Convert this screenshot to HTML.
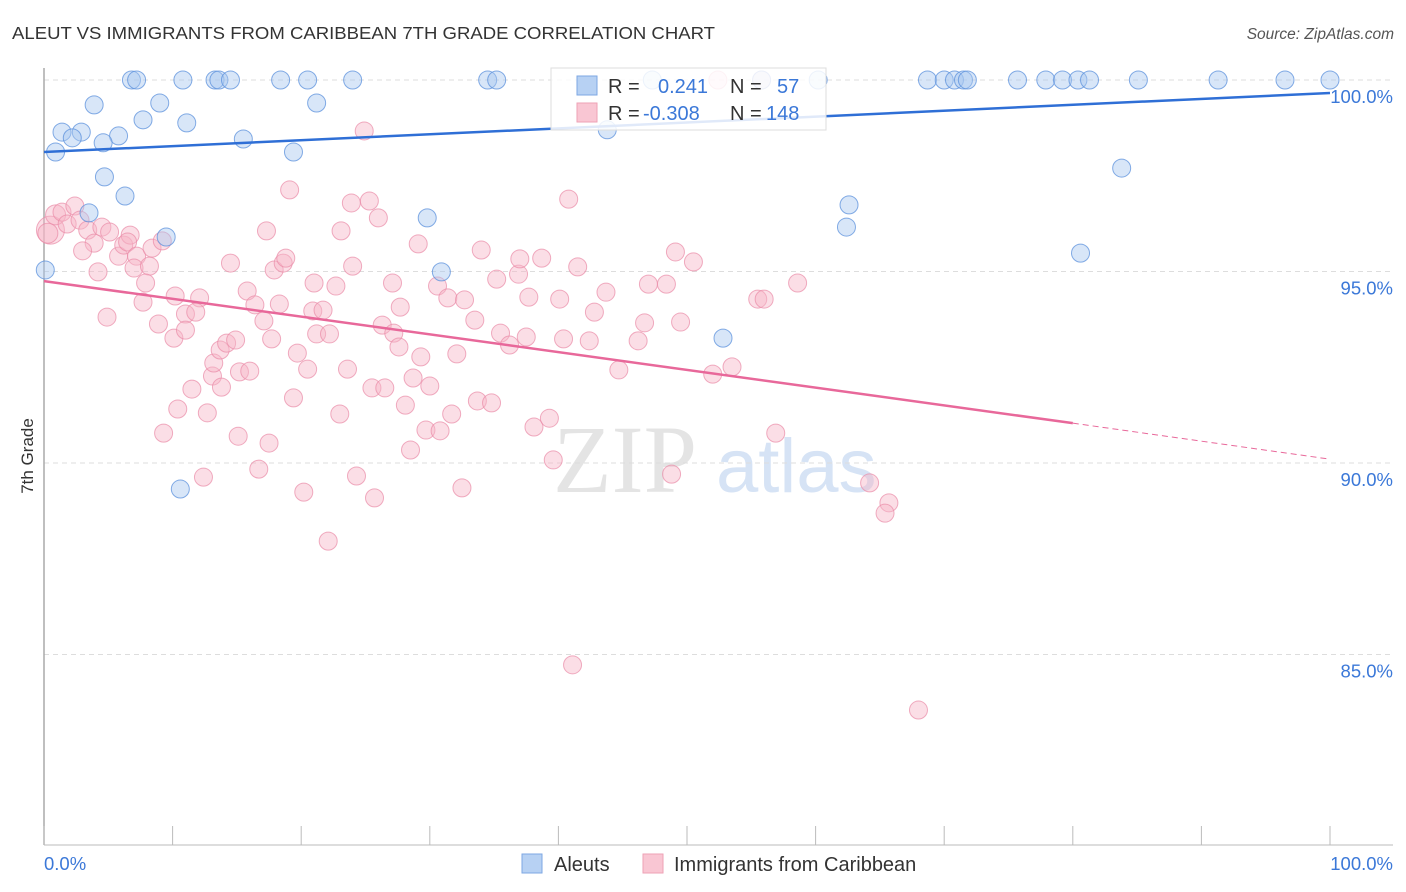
<!DOCTYPE html>
<html><head><meta charset="utf-8">
<style>
body{margin:0;background:#fff;font-family:"Liberation Sans",sans-serif;}
svg{display:block}
</style></head>
<body>
<svg id="chart" width="1406" height="892" viewBox="0 0 1406 892">
<text x="12" y="39" font-size="17.5" fill="#333" textLength="703" lengthAdjust="spacingAndGlyphs">ALEUT VS IMMIGRANTS FROM CARIBBEAN 7TH GRADE CORRELATION CHART</text>
<text x="1394" y="39" font-size="15.5" fill="#555" font-style="italic" text-anchor="end">Source: ZipAtlas.com</text>
<g>
<text x="553" y="492" font-size="96" font-family="Liberation Serif,serif" fill="#e4e4e4">ZIP</text>
<text x="716" y="492" font-size="76" fill="#d6e3f5">atlas</text>
</g>
<g id="grid"></g>
<g id="axes"></g>
<g id="marks"></g>
<g>
<rect x="551" y="68" width="275" height="62" fill="#fff" fill-opacity="0.85" stroke="#ddd"/>
<rect x="577" y="76" width="20" height="19" fill="#b7d1f3" stroke="#7ea7e3"/>
<rect x="577" y="103" width="20" height="19" fill="#f9c6d3" stroke="#eea2b6"/>
<text x="608" y="93" font-size="20" fill="#333">R = </text>
<text x="658" y="93" font-size="20" fill="#3b78d8">0.241</text>
<text x="730" y="93" font-size="20" fill="#333">N = </text>
<text x="777" y="93" font-size="20" fill="#3b78d8">57</text>
<text x="608" y="120" font-size="20" fill="#333">R = </text>
<text x="643" y="120" font-size="20" fill="#3b78d8">-0.308</text>
<text x="730" y="120" font-size="20" fill="#333">N = </text>
<text x="766" y="120" font-size="20" fill="#3b78d8">148</text>
</g>
<g>
<rect x="522" y="854" width="20" height="19" fill="#b7d1f3" stroke="#7ea7e3"/>
<text x="554" y="871" font-size="20" fill="#333">Aleuts</text>
<rect x="643" y="854" width="20" height="19" fill="#f9c6d3" stroke="#eea2b6"/>
<text x="674" y="871" font-size="20" fill="#333">Immigrants from Caribbean</text>
</g>
<text transform="translate(33,456) rotate(-90)" font-size="17" fill="#333" text-anchor="middle">7th Grade</text>
</svg>
<script>
const yTicks=[100,95,90,85];
const yTickLabels=["100.0%","95.0%","90.0%","85.0%"];
const xTicks=[0,10,20,30,40,50,60,70,80,90,100];
const xEndLabels=["0.0%","100.0%"];
const aleutX=[6.8,7.2,10.8,13.3,13.6,14.5,18.4,20.5,24.0,34.5,35.2,47.3,55.8,60.2,68.7,70.0,70.8,71.5,71.8,75.7,77.9,79.2,80.4,81.3,85.1,91.3,96.5,100,
3.9,9.0,21.2,1.4,2.9,2.2,5.8,7.7,11.1,15.5,4.6,0.9,19.4,43.8,4.7,6.3,3.5,29.8,9.5,0.1,30.9,62.6,62.4,83.8,80.6,52.8,10.6];
const aleutY=[100,100,100,100,100,100,100,100,100,100,100,100,100,100,100,100,100,100,100,100,100,100,100,100,100,100,100,100,
99.35,99.4,99.4,98.64,98.64,98.49,98.54,98.96,98.88,98.46,98.36,98.12,98.12,98.7,97.47,96.97,96.53,96.4,95.9,95.04,94.99,96.74,96.16,97.7,95.48,93.26,89.32];
const caribX=[0.5,0.3,0.9,1.4,1.8,2.4,2.8,3.4,3.9,3.0,4.2,4.5,5.1,5.8,6.2,6.7,6.5,7.2,7.0,8.4,8.2,9.2,7.9,7.7,4.9,10.2,8.9,11.0,10.1,11.0,12.1,11.8,11.5,10.4,9.3,12.7,13.1,13.2,13.7,14.2,14.9,13.8,15.2,14.5,15.8,16.4,17.1,17.3,17.9,18.6,18.8,18.3,17.7,16.0,15.1,17.5,16.7,12.4,19.1,19.7,19.4,20.5,20.2,22.1,21.0,20.9,21.7,21.2,22.2,22.7,23.1,23.9,24.0,23.6,23.0,24.3,25.3,24.9,26.0,26.3,27.2,27.1,27.6,27.7,25.5,26.5,25.7,28.1,28.7,29.3,29.1,30.0,29.7,30.8,31.7,28.5,30.6,31.4,32.7,32.1,33.5,33.7,34.8,32.5,34.0,35.2,35.5,36.2,36.9,37.0,37.7,37.5,38.1,38.7,39.3,39.6,40.1,40.4,40.8,41.5,42.4,42.8,43.7,44.7,46.2,46.7,47.0,48.4,48.8,49.1,49.5,50.5,52.0,53.5,55.5,56.0,56.9,58.6,64.2,65.7,65.4,68.0,41.1,52.4,55.8];
const caribY=[96.08,96.0,96.48,96.55,96.24,96.71,96.34,96.08,95.74,95.54,94.99,96.16,96.03,95.40,95.69,95.95,95.77,95.40,95.09,95.61,95.14,95.80,94.70,94.20,93.81,94.36,93.63,93.89,93.26,93.47,94.31,93.94,91.93,91.41,90.78,91.31,92.27,92.61,92.95,93.13,93.21,91.98,92.38,95.22,94.49,94.13,93.71,96.06,95.04,95.22,95.35,94.15,93.24,92.40,90.70,90.52,89.84,89.63,97.13,92.87,91.70,92.45,89.24,87.96,94.70,93.97,93.99,93.37,93.37,94.62,96.06,96.79,95.14,92.45,91.28,89.66,96.84,98.67,96.40,93.60,93.39,94.70,93.03,94.07,91.96,91.96,89.09,91.51,92.22,92.77,95.72,92.01,90.86,90.84,91.28,90.34,94.62,94.31,94.26,92.85,93.73,91.62,91.57,89.35,95.56,94.80,93.39,93.08,94.93,95.33,94.33,93.29,90.94,95.35,91.17,90.08,94.28,93.24,96.89,95.12,93.19,93.94,94.46,92.43,93.19,93.66,94.67,94.67,89.71,95.51,93.68,95.25,92.32,92.51,94.28,94.28,90.78,94.70,89.48,88.96,88.69,83.55,84.73,100,100];
const aleutTrend=[98.12,99.66];
const caribTrend=[94.75,91.04,90.1];

const NS="http://www.w3.org/2000/svg";
const X0=44,X1=1330,YT=80,YB=845;
const sx=v=>X0+(X1-X0)*v/100;
const sy=v=>YT+(100-v)*38.3;
function mk(tag,attrs,parent){const e=document.createElementNS(NS,tag);for(const k in attrs)e.setAttribute(k,attrs[k]);parent.appendChild(e);return e;}
const grid=document.getElementById('grid'),axes=document.getElementById('axes'),marks=document.getElementById('marks');
yTicks.forEach((t,i)=>{
  const l=mk('line',{x1:X0,x2:1393,y1:sy(t),y2:sy(t),stroke:'#ddd','stroke-dasharray':'5,4'},grid);
  
  
  const tx=mk('text',{x:1393,y:sy(t)+23,'font-size':18.5,fill:'#3b78d8','text-anchor':'end'},axes);
  tx.textContent=yTickLabels[i];
  
  
});
const ax=mk('line',{x1:X0,x2:X0,y1:68,y2:YB,stroke:'#aaa','stroke-width':1.5},axes);


const bx=mk('line',{x1:X0,x2:1393,y1:YB,y2:YB,stroke:'#bbb'},axes);


xTicks.forEach(t=>{
  const l=mk('line',{x1:sx(t),x2:sx(t),y1:826,y2:YB,stroke:'#bbb'},axes);
  
  
});
const xl0=mk('text',{x:44,y:870,'font-size':18.5,fill:'#3b78d8'},axes);xl0.textContent=xEndLabels[0];


const xl1=mk('text',{x:1393,y:870,'font-size':18.5,fill:'#3b78d8','text-anchor':'end'},axes);xl1.textContent=xEndLabels[1];



caribX.forEach((x,i)=>{
  const r=(x<1.5&&i<3)?(i===0?14:10):9;
  const c=mk('circle',{cx:sx(x),cy:sy(caribY[i]),r:r,fill:'#f7b6c8','fill-opacity':0.45,stroke:'#e98aa6','stroke-opacity':0.7,'stroke-width':1},marks);
  
  
});
aleutX.forEach((x,i)=>{
  const c=mk('circle',{cx:sx(x),cy:sy(aleutY[i]),r:9,fill:'#a9c8f0','fill-opacity':0.45,stroke:'#5b90dc','stroke-opacity':0.75,'stroke-width':1},marks);
  
  
});
const bt=mk('line',{x1:sx(0),y1:sy(aleutTrend[0]),x2:sx(100),y2:sy(aleutTrend[1]),stroke:'#2f6fd6','stroke-width':2.5},marks);


const pt=mk('line',{x1:sx(0),y1:sy(caribTrend[0]),x2:sx(80),y2:sy(caribTrend[1]),stroke:'#e8689a','stroke-width':2.5},marks);


const pd=mk('line',{x1:sx(80),y1:sy(caribTrend[1]),x2:sx(100),y2:sy(caribTrend[2]),stroke:'#e8689a','stroke-width':1,'stroke-dasharray':'6,4'},marks);


</script>
</body></html>
